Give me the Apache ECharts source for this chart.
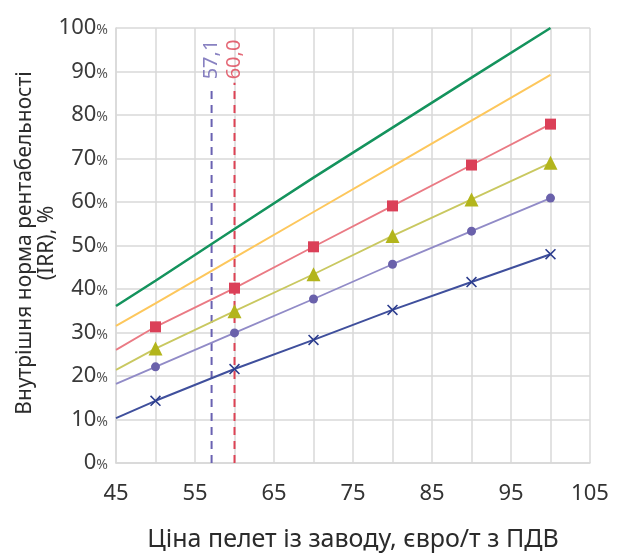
<!DOCTYPE html>
<html><head><meta charset="utf-8">
<script src="https://cdn.jsdelivr.net/npm/echarts@6/dist/echarts.min.js"></script>
<style>html,body{margin:0;padding:0;background:#fff}#c{width:619px;height:557px}</style>
</head><body><div id="c"></div>
<script>
const xVals = [45, 50, 60, 70, 80, 90, 100];
const crossSeries = [10.3, 14.3, 21.6, 28.3, 35.2, 41.6, 48.0];
const circleSeries = [18.2, 22.1, 29.9, 37.7, 45.7, 53.3, 60.9];
const triangleSeries = [21.4, 26.3, 34.9, 43.4, 52.2, 60.6, 69.0];
const squareSeries = [26.0, 31.3, 40.2, 49.7, 59.1, 68.5, 77.9];
const yellowSeries = [31.5, 36.7, 47.2, 57.7, 68.2, 78.7, 89.2];
const greenSeries = [36.1, 41.9, 53.8, 65.6, 77.1, 88.6, 100.0];
const breakEvenX = [57.1, 60.0];
const breakEvenLabels = ['57,1', '60,0'];
const breakEvenTop = [86.6, 87.4];
const breakEvenLabelY = [88.2, 88.2];
const xTickLabels = [45, 55, 65, 75, 85, 95, 105];

const FONT = 'Noto Sans';
const crossPath = 'path://M0,1L1,0L5,4L9,0L10,1L6,5L10,9L9,10L5,6L1,10L0,9L4,5Z';

function mk(vals, firstNoSymbol) {
  return xVals.map((x, i) => {
    const item = { value: [x, vals[i]] };
    if (firstNoSymbol && i === 0) item.symbol = 'none';
    return item;
  });
}

function markerSeries(vals, color, lineColor, symbol, size, width) {
  return {
    type: 'line', data: mk(vals, true), symbol: symbol, symbolSize: size,
    showAllSymbol: true,
    itemStyle: { color: color, borderWidth: 0 },
    lineStyle: { color: lineColor, width: width },
    emphasis: { disabled: true }, z: 3
  };
}

const dashColors = ['#6a62b2', '#dd4254'];
const dashSeries = breakEvenX.map((x, i) => ({
  type: 'line', symbol: 'none', z: 2,
  lineStyle: { color: dashColors[i], width: 2, type: [8, 6] },
  data: [[x, 0], [x, breakEvenTop[i]]],
  emphasis: { disabled: true }
}));
const dashLabelSeries = breakEvenX.map((x, i) => ({
  type: 'scatter', symbolSize: 1, z: 4, silent: true,
  itemStyle: { color: 'rgba(0,0,0,0)' },
  data: [[x, breakEvenLabelY[i]]],
  label: { show: true, formatter: breakEvenLabels[i], position: 'inside',
    rotate: 90, align: 'left', verticalAlign: 'middle',
    color: dashColors[i], fontSize: 20, fontFamily: FONT },
  emphasis: { disabled: true }
}));

const chart = echarts.init(document.getElementById('c'), null, { renderer: 'canvas' });
chart.setOption({
  animation: false,
  backgroundColor: '#fff',
  grid: { left: 116, right: 29, top: 28, bottom: 94, containLabel: false, outerBoundsMode: 'none' },
  xAxis: {
    type: 'value', min: 45, max: 105, interval: 5,
    name: 'Ціна пелет із заводу, євро/т з ПДВ', nameLocation: 'middle', nameGap: 64,
    nameMoveOverlap: false,
    nameTextStyle: { fontSize: 25, color: '#2b2b2b', fontFamily: FONT },
    axisLine: { show: true, lineStyle: { color: '#d8d8d8', width: 1.5 } },
    axisTick: { show: false },
    splitLine: { show: true, lineStyle: { color: '#d8d8d8', width: 1.5 } },
    axisLabel: { margin: 20, fontSize: 22, color: '#333', fontFamily: FONT,
      formatter: v => xTickLabels.indexOf(v) >= 0 ? String(v) : '' }
  },
  yAxis: {
    type: 'value', min: 0, max: 100, interval: 10,
    name: 'Внутрішня норма рентабельності\n(IRR), %', nameLocation: 'middle', nameGap: 58,
    nameMoveOverlap: false,
    nameRotate: 90,
    nameTextStyle: { fontSize: 21, color: '#2b2b2b', fontFamily: FONT, lineHeight: 22, align: 'center', padding: [0, 0, 0, 5] },
    axisLine: { show: true, lineStyle: { color: '#d8d8d8', width: 1.5 } },
    axisTick: { show: false },
    splitLine: { show: true, lineStyle: { color: '#d8d8d8', width: 1.5 } },
    axisLabel: { margin: 8, color: '#333', fontFamily: FONT,
      formatter: v => '{n|' + v + '}{p|%}',
      rich: { n: { fontSize: 22, color: '#3a3a3a', fontFamily: FONT },
              p: { fontSize: 14, color: '#555', fontFamily: FONT, padding: [5, 0, 0, 0] } } }
  },
  series: [
    { type: 'line', data: mk(greenSeries, false), symbol: 'none',
      lineStyle: { color: '#14935d', width: 2.5 }, emphasis: { disabled: true }, z: 3 },
    { type: 'line', data: mk(yellowSeries, false), symbol: 'none',
      lineStyle: { color: '#fdc75c', width: 2 }, emphasis: { disabled: true }, z: 3 },
    markerSeries(squareSeries, '#db4058', '#ea7a84', 'rect', 11, 1.8),
    markerSeries(triangleSeries, '#b3b51c', '#c9c860', 'triangle', 14, 1.8),
    markerSeries(circleSeries, '#6a61ab', '#918bc7', 'circle', 9, 1.8),
    markerSeries(crossSeries, '#2c3d8e', '#3f4f9c', crossPath, 11, 2),
    ...dashSeries,
    ...dashLabelSeries
  ]
});
</script>
</body></html>
